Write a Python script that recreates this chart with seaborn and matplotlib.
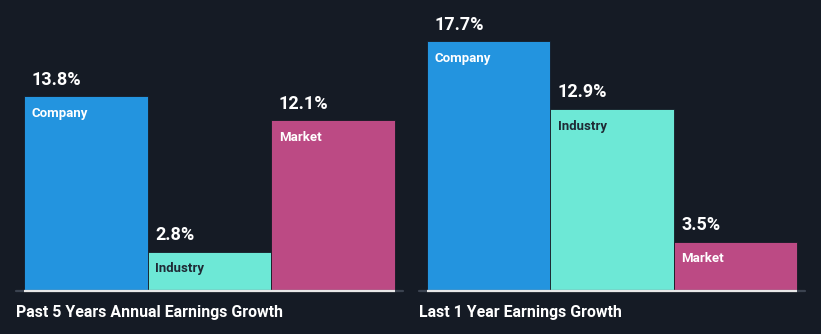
import matplotlib
matplotlib.use("Agg")
import matplotlib.pyplot as plt
import seaborn as sns
import pandas as pd

categories = ["Company", "Industry", "Market"]
past5_values = [13.8, 2.8, 12.1]
last1_values = [17.7, 12.9, 3.5]
value_labels_past5 = ["13.8%", "2.8%", "12.1%"]
value_labels_last1 = ["17.7%", "12.9%", "3.5%"]
titles = ["Past 5 Years Annual Earnings Growth", "Last 1 Year Earnings Growth"]

BG = "#151b25"
colors = {"Company": "#2394df", "Industry": "#6de8d6", "Market": "#bc4a84"}
inner_text = {"Company": "white", "Industry": "#1f2a35", "Market": "white"}

sns.set_theme(style="dark")
plt.rcParams["font.family"] = ["Roboto", "DejaVu Sans"]

W, H = 821, 334
fig = plt.figure(figsize=(W / 100, H / 100), dpi=100, facecolor=BG)

def px_axes(x0, x1, ytop, ybot):
    return fig.add_axes([x0 / W, (H - ybot) / H, (x1 - x0) / W, (ybot - ytop) / H])

panels = [
    (px_axes(16, 403, 20, 291), past5_values, value_labels_past5, titles[0]),
    (px_axes(419, 805, 20, 291), last1_values, value_labels_last1, titles[1]),
]

ymax = 271 / 14.1
for ax, vals, vlabels, title in panels:
    df = pd.DataFrame({"cat": categories, "val": vals})
    sns.barplot(data=df, x="cat", y="val", hue="cat", palette=colors,
                width=1.0, ax=ax, legend=False, saturation=1,
                edgecolor=BG, linewidth=0.6)
    ax.set_facecolor(BG)
    ax.set_xlim(-0.565, 2.565)
    ax.set_ylim(0, ymax)
    ax.set_xticks([])
    ax.set_yticks([])
    ax.set_xlabel("")
    ax.set_ylabel("")
    for s in ax.spines.values():
        s.set_visible(False)
    ax.axhline(0, color="#3b4350", lw=1.6, zorder=1, clip_on=False)
    ax.hlines(0, -0.5, 2.5, color="#e8e8e8", lw=1.6, zorder=5, clip_on=False)
    for i, (c, v, lab) in enumerate(zip(categories, vals, vlabels)):
        ax.annotate(lab, (i - 0.5, v), xytext=(5.5, 5.5), textcoords="offset points",
                    ha="left", va="bottom", color="white", fontsize=13,
                    fontweight="bold")
        ax.annotate(c, (i - 0.5, v), xytext=(5.5, -7.5), textcoords="offset points",
                    ha="left", va="top", color=inner_text[c], fontsize=9.5,
                    fontweight="bold")
    ax.text(0, -0.0775, title, transform=ax.transAxes, ha="left", va="center",
            color="white", fontsize=11.4, fontweight="bold")

fig.savefig("out.png", dpi=100, facecolor=BG)
